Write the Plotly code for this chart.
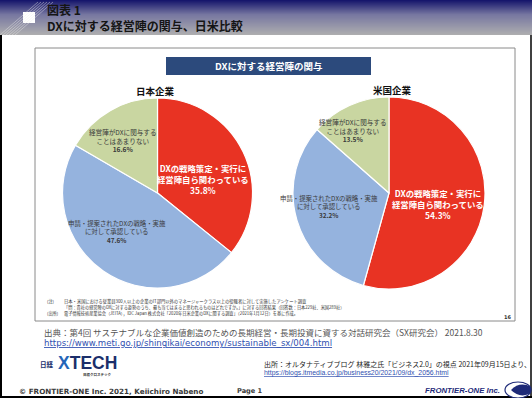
import plotly.graph_objects as go

# ---------------- data ----------------
categories = [
    "DXの戦略策定・実行に経営陣自ら関わっている",
    "申請・提案されたDXの戦略・実施に対して承認している",
    "経営陣がDXに関与することはあまりない",
]
category_lines = [
    ["DXの戦略策定・実行に", "経営陣自ら関わっている"],
    ["申請・提案されたDXの戦略・実施", "に対して承認している"],
    ["経営陣がDXに関与する", "ことはあまりない"],
]
japan_values = [35.8, 47.6, 16.6]
us_values = [54.3, 32.2, 13.5]
slice_colors = ["#E83323", "#95B3DE", "#C9D6A1"]
pie_titles = ["日本企業", "米国企業"]

W, H = 532, 398
JP = "Noto Sans CJK JP"


def X(x):
    return x / W


def Y(y):
    return 1 - y / H


fig = go.Figure()

pie_domains = [
    dict(x=[X(62.5), X(252.5)], y=[Y(288), Y(98)]),
    dict(x=[X(293), X(485)], y=[Y(289), Y(97)]),
]
for vals, dom in zip([japan_values, us_values], pie_domains):
    fig.add_trace(go.Pie(
        values=vals, labels=categories, sort=False, direction="clockwise",
        rotation=0, textinfo="none", hoverinfo="skip", showlegend=False,
        marker=dict(colors=slice_colors, line=dict(color="white", width=1.2)),
        domain=dom,
    ))

shapes = []
annotations = []


def ann(x, y, text, size, color="#222", xanchor="left", yanchor="middle",
        family=JP, align="left"):
    annotations.append(dict(
        x=X(x), y=Y(y), xref="paper", yref="paper", text=text, showarrow=False,
        xanchor=xanchor, yanchor=yanchor, align=align,
        font=dict(size=size, color=color, family=family)))


def rect(x0, y0, x1, y1, fill=None, line=None, lw=1):
    shapes.append(dict(
        type="rect", xref="paper", yref="paper", x0=X(x0), x1=X(x1),
        y0=Y(y1), y1=Y(y0), fillcolor=fill or "rgba(0,0,0,0)",
        line=dict(color=line or "rgba(0,0,0,0)", width=lw if line else 0),
        layer="below"))


# header gradient
def lerp(a, b, t):
    return tuple(int(round(a[i] + (b[i] - a[i]) * t)) for i in range(3))


top_c, mid_c, bot_c = (22, 22, 108), (118, 118, 160), (176, 176, 176)
for i in range(35):
    if i < 14:
        c = lerp(top_c, mid_c, i / 14)
    else:
        c = lerp(mid_c, bot_c, (i - 14) / 21)
    rect(0, i, W, i + 1.05, fill="rgb(%d,%d,%d)" % c)

# diagonal light stripes at header left
for k in range(6):
    shapes.append(dict(type="line", xref="paper", yref="paper",
                       x0=X(0 + k * 3), y0=Y(35), x1=X(38 + k * 3), y1=Y(2),
                       line=dict(color="rgba(235,235,235,0.55)", width=0.8)))
rect(23, 12, 35, 23, fill="white")

ann(45, 17.5, "<b>図表 1<br>DXに対する経営陣の関与、日米比較</b>", 12, color="#151515")

# slide border
shapes.append(dict(type="line", xref="paper", yref="paper", x0=X(1), x1=X(1),
                   y0=Y(398), y1=Y(35), line=dict(color="black", width=2)))
shapes.append(dict(type="line", xref="paper", yref="paper", x0=X(531), x1=X(531),
                   y0=Y(398), y1=Y(35), line=dict(color="black", width=1.5)))
shapes.append(dict(type="line", xref="paper", yref="paper", x0=0, x1=1,
                   y0=Y(397), y1=Y(397), line=dict(color="black", width=2)))

# inner box
rect(35, 48, 515, 321, fill="white", line="#8a8a8a", lw=1)
# banner
rect(166, 57, 371, 75, fill="#2C4A7C")
ann(268.5, 66, "<b>DXに対する経営陣の関与</b>", 9.5, color="white", xanchor="center")

# pie titles
ann(155, 91, "<b>%s</b>" % pie_titles[0], 9.5, color="#111", xanchor="center")
ann(392, 90, "<b>%s</b>" % pie_titles[1], 9.5, color="#111", xanchor="center")

# slice labels
label_pos = [
    [(203, 179), (117, 232), (123, 140.5)],
    [(438, 204), (329, 207.5), (353, 131)],
]
label_style = [
    dict(size=8.4, color="white", bold=True),
    dict(size=6.4, color="#3a3a3a", bold=False),
    dict(size=6.6, color="#3a3a3a", bold=False),
]
for vals, poss in zip([japan_values, us_values], label_pos):
    for i, (v, (lx, ly)) in enumerate(zip(vals, poss)):
        st = label_style[i]
        lines = category_lines[i]
        body = "<br>".join(lines)
        if st["bold"]:
            body = "<b>" + body + "</b>"
        txt = body + "<br><b>%.1f%%</b>" % v
        ann(lx, ly, txt, st["size"], color=st["color"], xanchor="center", align="center")

# notes
note_c = "#333"
ann(45, 301, "(注)", 4.2, color=note_c)
ann(62, 301, "日本・米国における従業員300人以上の企業のIT部門以外のマネージャークラス以上の役職者に対して実施したアンケート調査", 4.3, color=note_c)
ann(62, 307, "「問：貴社の経営陣のDXに対する姿勢のうち、最も当てはまると思われるものはどれですか。」に対する回答結果（回答数：日本229社、米国289社）", 4.2, color=note_c)
ann(45, 313, "(出所)", 4.2, color=note_c)
ann(62, 313, "電子情報技術産業協会（JEITA），IDC Japan 株式会社「2020年日米企業のDXに関する調査」（2021年1月12日）を基に作成。", 4.2, color=note_c)
ann(513, 317, "<b>16</b>", 5, color="#333", xanchor="right", family="DejaVu Sans")

# sources
ann(42, 332, "出典：第4回 サステナブルな企業価値創造のための長期経営・長期投資に資する対話研究会（SX研究会） 2021.8.30",
    8.5, color="#555")
ann(42, 343, "<u>https://www.meti.go.jp/shingikai/economy/sustainable_sx/004.html</u>", 8.6,
    color="#3050B0", family="DejaVu Sans")

ann(38, 364, "<b>日経</b>", 6.5, color="#1b2f6b")
ann(56, 363, "<b><span style='color:#2465B8'>X</span>TECH</b>", 17.5, color="#1b2f6b",
    family="Liberation Sans")
ann(81, 374, "<b>日経クロステック</b>", 3.5, color="#333")

ann(262, 364, "出所：オルタナティブブログ 林雅之氏「ビジネス2.0」の視点 2021年09月15日より、", 7, color="#222")
ann(262, 373, "<u>https://blogs.itmedia.co.jp/business20/2021/09/dx_2056.html</u>", 6.9,
    color="#3050B0", family="Liberation Sans")

# footer
ann(17, 391, "<b>© FRONTIER-ONE Inc. 2021, Keiichiro Nabeno</b>", 7.2, color="#3a3a3a",
    family="DejaVu Sans")
ann(235, 391, "<b>Page 1</b>", 6.6, color="#3a3a3a", family="DejaVu Sans")
ann(502, 390, "<b><i>FRONTIER-ONE Inc.</i></b>", 7.8, color="#1E2A78", xanchor="right",
    family="Liberation Sans")
shapes.append(dict(type="circle", xref="paper", yref="paper", x0=X(505), x1=X(531),
                   y0=Y(398), y1=Y(382), fillcolor="white",
                   line=dict(color="#1E2A78", width=1.2)))
shapes.append(dict(type="path", xref="paper", yref="paper",
                   path="M %f,%f Q %f,%f %f,%f L %f,%f Q %f,%f %f,%f Z" % (
                       X(511), Y(390), X(520), Y(381), X(531), Y(387),
                       X(531), Y(393), X(520), Y(399), X(511), Y(390)),
                   fillcolor="#1E2A78", line=dict(width=0)))

fig.update_layout(
    width=W, height=H, margin=dict(l=0, r=0, t=0, b=0),
    paper_bgcolor="white", plot_bgcolor="white", showlegend=False,
    shapes=shapes, annotations=annotations,
)
fig.write_html(
    "out.html",
    config={"displayModeBar": False},
    post_script="document.body.style.margin='0';document.body.style.overflow='hidden';",
)
